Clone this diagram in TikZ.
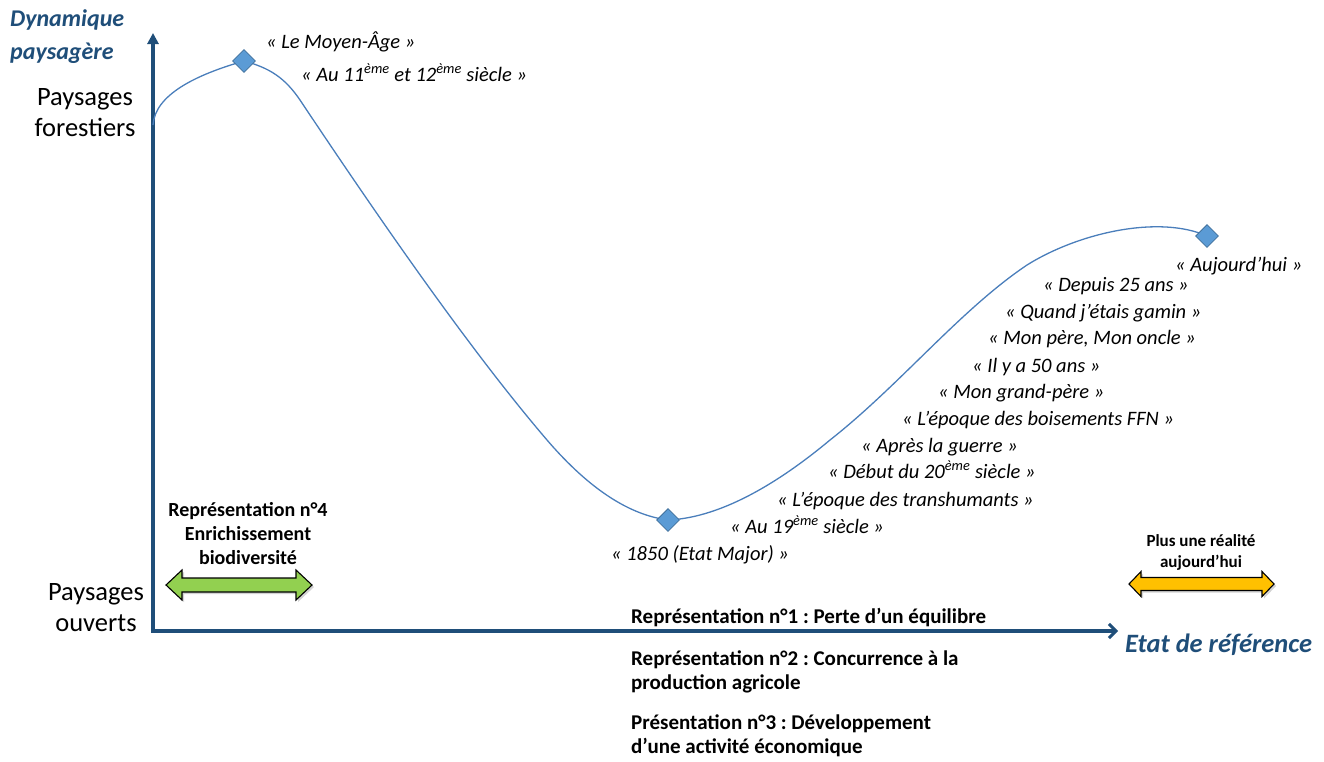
\documentclass[tikz,border=0pt]{standalone}
\usepackage{fontspec}
\setmainfont{Carlito}
\usetikzlibrary{arrows.meta,shadows,shapes.geometric}
\definecolor{axisblue}{HTML}{1F4E79}
\definecolor{curveblue}{HTML}{4A7EBB}
\definecolor{diafill}{HTML}{5B9BD5}
\definecolor{diaedge}{HTML}{41719C}
\definecolor{arrgreen}{HTML}{92D050}
\definecolor{arrblue}{HTML}{BDD7EE}
\definecolor{arrorange}{HTML}{FFC000}
\frenchspacing
\newcommand{\dblarr}[8]{% x1 x2 y halfshaft halfhead headlen fill
  \filldraw[dblarrow, fill=#7] (#1,#3) -- (#1+#6,#3-#5) -- (#1+#6,#3-#4) -- (#2-#6,#3-#4) -- (#2-#6,#3-#5) -- (#2,#3)
    -- (#2-#6,#3+#5) -- (#2-#6,#3+#4) -- (#1+#6,#3+#4) -- (#1+#6,#3+#5) -- cycle;}
\begin{document}
\begin{tikzpicture}[x=1pt,y=-1pt,
  axis/.style={line width=3.2pt, draw=axisblue, line join=miter},
  curve/.style={draw=curveblue, line width=1.3pt},
  diam/.style={diamond, fill=diafill, draw=diaedge, line width=0.8pt, minimum size=23pt, inner sep=0pt},
  quote/.style={font=\fontsize{20.5}{24}\selectfont\itshape, inner sep=0pt, anchor=base west},
  lbl/.style={font=\fontsize{20}{24}\selectfont\bfseries, inner sep=0pt},
  blbl/.style={font=\fontsize{21}{24}\selectfont\bfseries, inner sep=0pt},
  axlbl/.style={font=\fontsize{24}{33}\selectfont\bfseries\itshape, text=axisblue, inner sep=0pt},
  side/.style={font=\fontsize{26.5}{31}\selectfont, inner sep=0pt, align=center},
  dblarrow/.style={draw=black, line width=1.1pt, line join=miter, drop shadow={shadow xshift=2pt, shadow yshift=-2pt, opacity=0.35}}
]
\useasboundingbox (0,0) rectangle (1324,761);

% axes
\coordinate (O) at (153,631);
\coordinate (ytip) at (153,33);
\coordinate (xtip) at (1118,631);
\draw[axis, {Triangle[length=11pt,width=11pt]}-{Straight Barb[length=7pt,width=14pt,line width=3pt]}] (ytip) -- (O) -- (xtip);

% curve
\coordinate (p1) at (244,61);
\coordinate (p2) at (668,520);
\coordinate (p3) at (1207,236);
\draw[curve] (153,125) .. controls (155,95) and (195,75) .. (p1)
  .. controls (270,68) and (285,78) .. (300,100)
  .. controls (380,220) and (470,350) .. (547,440)
  .. controls (590,490) and (630,515) .. (p2)
  .. controls (715,518) and (770,490) .. (830,440)
  .. controls (900,385) and (960,310) .. (1027,265)
  .. controls (1080,232) and (1160,215) .. (p3);
\node[diam] (d1) at (p1) {};
\node[diam] (d2) at (p2) {};
\node[diam] (d3) at (p3) {};

% axis labels
\node[axlbl, anchor=west, align=left] (ylab) at (10,37) {Dynamique\\paysagère};
\node[axlbl, font=\fontsize{26.5}{33}\selectfont\bfseries\itshape, anchor=west] (xlab) at (1125,645) {Etat de référence};
\node[side] (forest) at (85,113) {Paysages\\forestiers};
\node[side] (open) at (96,608) {Paysages\\ouverts};

% quotes
\node[quote] (q1) at (266,48) {«~Le Moyen-Âge~»};
\node[quote] (q2) at (301,81) {«~Au 11\textsuperscript{ème} et 12\textsuperscript{ème} siècle~»};
\node[quote] (q3) at (1175,271) {«~Aujourd’hui~»};
\node[quote] (q4) at (1043,291) {«~Depuis 25 ans~»};
\node[quote] (q5) at (1005,318) {«~Quand j’étais gamin~»};
\node[quote] (q6) at (988,344) {«~Mon père, Mon oncle~»};
\node[quote] (q7) at (972,372) {«~Il y a 50 ans~»};
\node[quote] (q8) at (938,398) {«~Mon grand-père~»};
\node[quote] (q9) at (902,425) {«~L’époque des boisements FFN~»};
\node[quote] (q10) at (861,452) {«~Après la guerre~»};
\node[quote] (q11) at (828,478) {«~Début du 20\textsuperscript{ème} siècle~»};
\node[quote] (q12) at (777,506) {«~L’époque des transhumants~»};
\node[quote] (q13) at (730,533) {«~Au 19\textsuperscript{ème} siècle~»};
\node[quote] (q14) at (611,560) {«~1850 (Etat Major)~»};

% double arrows
\dblarr{166}{312}{585}{7}{15}{16}{arrgreen}
\dblarr{598}{989}{583}{8}{13}{14}{arrblue}
\dblarr{1129}{1274}{584}{6.5}{12.5}{12}{arrorange}

% bold labels
\node[lbl, align=center] (r4) at (248,534) {Représentation n°4\\Enrichissement\\biodiversité};
\node[lbl, align=center, font=\fontsize{17}{21}\selectfont\bfseries] (plus) at (1201,552) {Plus une réalité\\aujourd’hui};
\node[blbl, anchor=base west] (r1) at (631,623) {Représentation n°1 : Perte d’un équilibre};
\node[blbl, anchor=west, align=left] (r2) at (631,672) {Représentation n°2 : Concurrence à la\\production agricole};
\node[blbl, anchor=west, align=left] (r3) at (631,736) {Présentation n°3 : Développement\\d’une activité économique};
\end{tikzpicture}
\end{document}
